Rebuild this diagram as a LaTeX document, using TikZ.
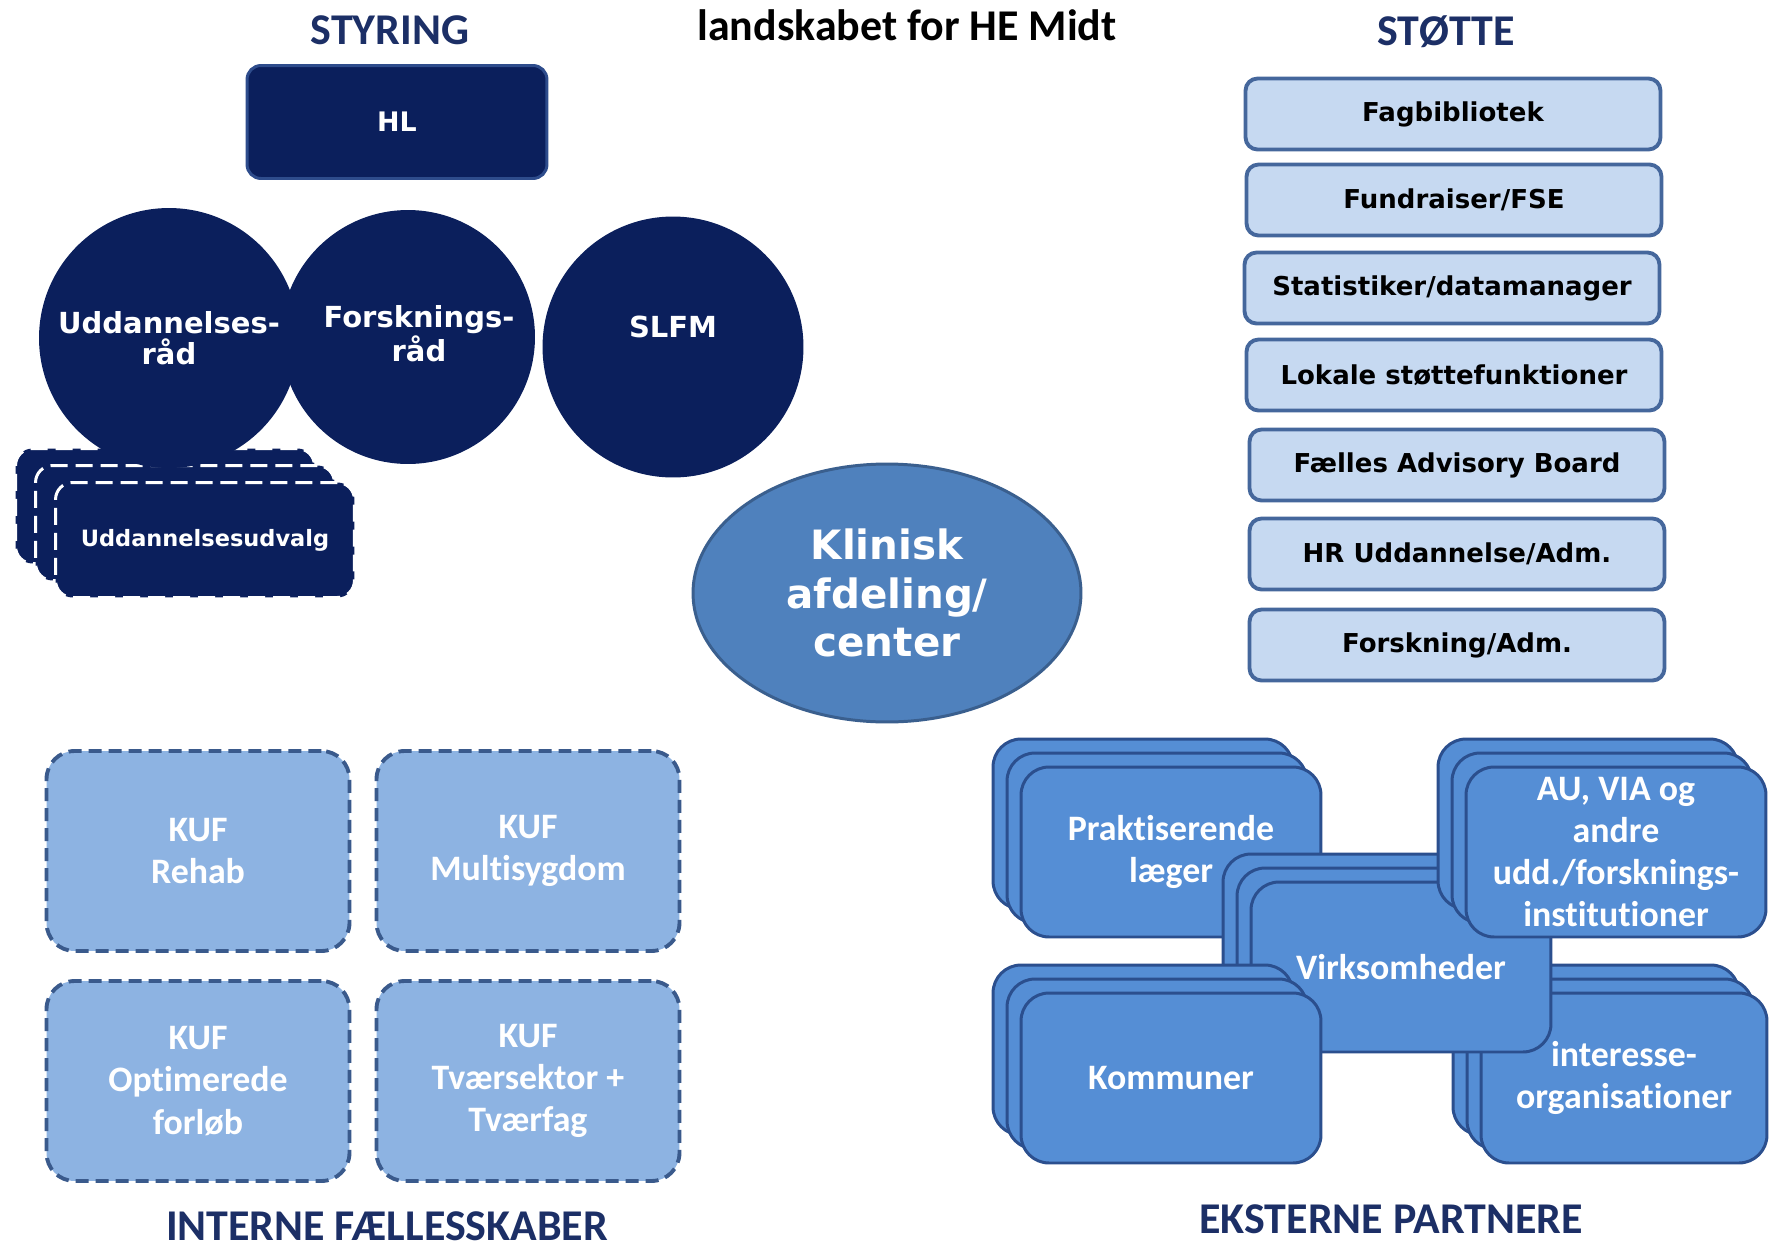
\documentclass[tikz,border=0pt]{standalone}
\usepackage{fontspec}
\setmainfont{Carlito}[Ligatures=NoCommon]
\newfontfamily\verd{DejaVu Sans}
\usetikzlibrary{shapes, positioning}

\definecolor{navy}{HTML}{0B1F5C}
\definecolor{hlline}{HTML}{2E4C8C}
\definecolor{titelblaa}{HTML}{1C2F66}
\definecolor{klinisk}{HTML}{4F81BD}
\definecolor{kliniskline}{HTML}{3A5F8E}
\definecolor{stottefill}{HTML}{C6D9F1}
\definecolor{stotteline}{HTML}{45679C}
\definecolor{kuffill}{HTML}{8DB3E2}
\definecolor{kufline}{HTML}{3A5A8C}
\definecolor{extfill}{HTML}{558ED5}
\definecolor{extline}{HTML}{2B4F8E}

\begin{document}
\begin{tikzpicture}[x=0.02cm, y=-0.02cm,
	titel/.style={font=\bfseries\fontsize{25}{30}\selectfont, text=titelblaa, anchor=base},
	hlbox/.style={draw=hlline, fill=navy, line width=1.7pt, rounded corners=0.28cm, minimum width=6cm, minimum height=2.26cm, inner sep=0, text=white, font=\verd\bfseries\fontsize{15.3}{18}\selectfont},
	raad/.style={circle, fill=navy, inner sep=0, text=white, align=center, font=\verd\bfseries\fontsize{16.5}{18}\selectfont},
	raadtekst/.style={text=white, align=center, font=\verd\bfseries\fontsize{16.5}{18}\selectfont},
	udvalg/.style={draw=white, fill=navy, line width=1.7pt, dash pattern=on 0.34cm off 0.16cm, rounded corners=0.34cm, minimum width=5.98cm, minimum height=2.3cm, inner sep=0, text=white, font=\verd\bfseries\fontsize{12.8}{15}\selectfont},
	kliniskbox/.style={ellipse, draw=kliniskline, fill=klinisk, line width=1.7pt, minimum width=7.76cm, minimum height=5.16cm, inner sep=0, text=white, align=center, font=\verd\bfseries\fontsize{23}{27.6}\selectfont},
	stottebox/.style={draw=stotteline, fill=stottefill, line width=2.2pt, rounded corners=0.24cm, minimum width=8.3cm, minimum height=1.42cm, inner sep=0, font=\verd\bfseries\fontsize{14.8}{18}\selectfont},
	kufbox/.style={draw=kufline, fill=kuffill, line width=2.2pt, dash pattern=on 0.26cm off 0.14cm, rounded corners=0.56cm, minimum width=6.06cm, minimum height=4cm, inner sep=0, text=white, align=center, font=\bfseries\fontsize{20.4}{24}\selectfont},
	extbox/.style={draw=extline, fill=extfill, line width=1.7pt, rounded corners=0.56cm, minimum width=6cm, minimum height=3.4cm, inner sep=0, text=white, align=center, font=\bfseries\fontsize{20.4}{24}\selectfont}]

	\fill[white] (0,0) rectangle (1769,1248); % 背景

	% 标题
	\node[titel] (styring) at (390,44) {STYRING};
	\node[titel, text=black] (landskab) at (907,40) {landskabet for HE Midt};
	\node[titel] (stotte) at (1446,45) {STØTTE};
	\node[titel] (interne) at (387,1240) {INTERNE FÆLLESSKABER};
	\node[titel] (eksterne) at (1391,1233) {EKSTERNE PARTNERE};

	% styring
	\node[hlbox] (hl) at (397,122) {HL};
	\foreach \lag in {2,1} % 叠放的卡片
		\node[udvalg] (udvalg\lag) at (205-20*\lag,540-17*\lag) {};
	\node[udvalg] (udvalg) at (205,540) {Uddannelsesudvalg};
	\node[raad, minimum size=5.2cm] (uddraad) at (169,338) {Uddannelses-\\råd};
	\node[raad, minimum size=5.08cm, label={[raadtekst, xshift=0.22cm, yshift=0.06cm]center:Forsknings-\\råd}] (forskraad) at (408,337) {};
	\node[raad, minimum size=5.22cm, label={[raadtekst, yshift=0.4cm]center:SLFM}] (slfm) at (673,347) {};

	\node[kliniskbox] (klinisk) at (887,593) {Klinisk\\afdeling/\\center};

	% støtte
	\node[stottebox] (fagbib) at (1453,114) {Fagbibliotek};
	\node[stottebox] (fundraiser) at (1454,200) {Fundraiser/FSE};
	\node[stottebox] (statistiker) at (1452,288) {Statistiker/datamanager};
	\node[stottebox] (lokale) at (1454,375) {Lokale støttefunktioner};
	\node[stottebox] (faelles) at (1457,465) {Fælles Advisory Board};
	\node[stottebox] (hr) at (1457,554) {HR Uddannelse/Adm.};
	\node[stottebox] (forskadm) at (1457,645) {Forskning/Adm.};

	% interne fællesskaber
	\node[kufbox] (rehab) at (198,851) {KUF\\Rehab};
	\node[kufbox] (multi) at (528,851) {KUF\\Multisygdom};
	\node[kufbox] (forloeb) at (198,1081) {KUF\\Optimerede\\forløb};
	\node[kufbox] (tvaer) at (528,1081) {KUF\\Tværsektor +\\Tværfag};

	% eksterne partnere
	\foreach \lag in {2,1}
		\node[extbox, minimum width=5.72cm] (inter\lag) at (1624-14*\lag,1078-14*\lag) {};
	\node[extbox, minimum width=5.72cm] (inter) at (1624,1078) {interesse-\\organisationer};
	\foreach \lag in {2,1}
		\node[extbox] (prak\lag) at (1171-14*\lag,852-14*\lag) {};
	\node[extbox] (prak) at (1171,852) {Praktiserende\\læger};
	\foreach \lag in {2,1}
		\node[extbox] (virk\lag) at (1401-14*\lag,967-14*\lag) {};
	\node[extbox] (virk) at (1401,967) {Virksomheder};
	\foreach \lag in {2,1}
		\node[extbox] (au\lag) at (1616-14*\lag,852-14*\lag) {};
	\node[extbox] (au) at (1616,852) {AU, VIA og\\andre\\udd./forsknings-\\institutioner};
	\foreach \lag in {2,1}
		\node[extbox] (komm\lag) at (1171-14*\lag,1078-14*\lag) {};
	\node[extbox] (komm) at (1171,1078) {Kommuner};
\end{tikzpicture}
\end{document}
